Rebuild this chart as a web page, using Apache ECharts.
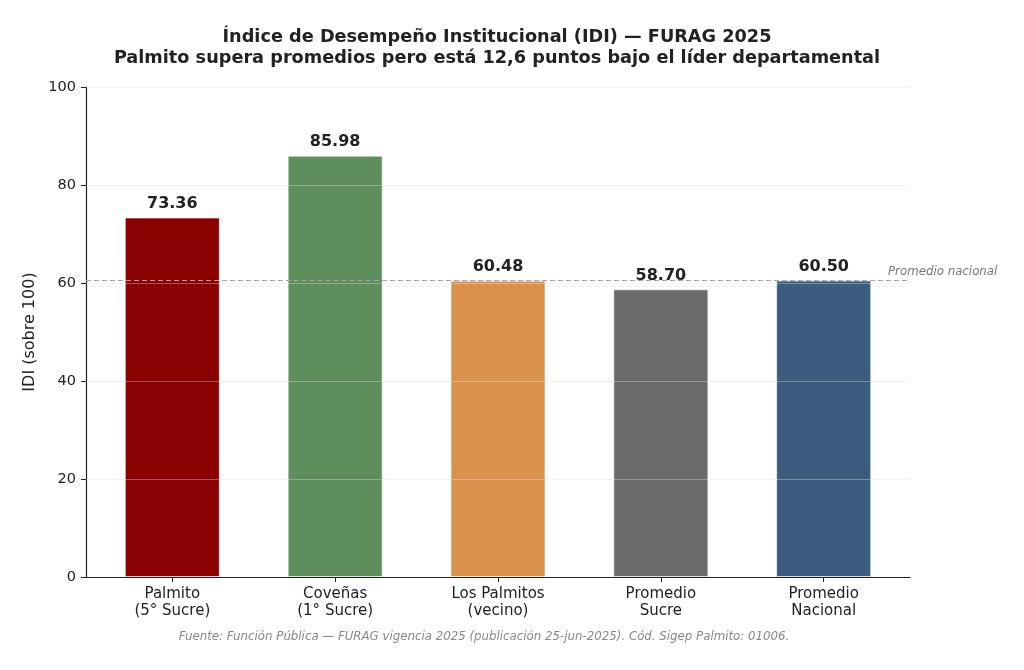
<!DOCTYPE html>
<html>
<head>
<meta charset="utf-8">
<script src="https://cdn.jsdelivr.net/npm/echarts@6/dist/echarts.min.js"></script>
<style>html,body{margin:0;padding:0;background:#fff}#c{width:1024px;height:670px}</style>
</head>
<body>
<div id="c"></div>
<script>
const categories = ['Palmito\n(5° Sucre)', 'Coveñas\n(1° Sucre)', 'Los Palmitos\n(vecino)', 'Promedio\nSucre', 'Promedio\nNacional'];
const values = [73.36, 85.98, 60.48, 58.70, 60.50];
const barColors = ['#8b0000', '#5e8e5c', '#da914c', '#6a6a6a', '#3b5b7f'];
const nationalAvg = 60.50;
const yTicks = [0, 20, 40, 60, 80, 100];
const titleText = 'Índice de Desempeño Institucional (IDI) — FURAG 2025\nPalmito supera promedios pero está 12,6 puntos bajo el líder departamental';
const sourceText = 'Fuente: Función Pública — FURAG vigencia 2025 (publicación 25-jun-2025). Cód. Sigep Palmito: 01006.';
const avgLabel = 'Promedio nacional';

const FONT = 'DejaVu Sans';
const xMin = -0.53, xMax = 4.53;
const chart = echarts.init(document.getElementById('c'), null, {renderer: 'canvas'});

const barData = values.map((v, i) => ({
  value: [i, v],
  itemStyle: {color: barColors[i]}
}));

chart.setOption({
  animation: false,
  backgroundColor: '#fff',
  textStyle: {fontFamily: FONT},
  grid: {left: 86, right: 114, top: 87, bottom: 93, containLabel: false},
  xAxis: {
    type: 'value', min: xMin, max: xMax,
    splitLine: {show: false},
    axisLine: {show: true, onZero: false, lineStyle: {color: '#222', width: 1.2}},
    axisTick: {show: true, length: 5, lineStyle: {color: '#222'}, customValues: categories.map((c, i) => i)},
    axisLabel: {
      customValues: categories.map((c, i) => i),
      formatter: v => categories[Math.round(v)] || '',
      fontFamily: FONT, fontSize: 15, color: '#222', lineHeight: 17, margin: 9
    }
  },
  yAxis: {
    type: 'value', min: 0, max: 100, interval: 20,
    name: 'IDI (sobre 100)', nameLocation: 'middle', nameGap: 43,
    nameTextStyle: {fontFamily: FONT, fontSize: 16, color: '#222'},
    axisLine: {show: true, onZero: false, lineStyle: {color: '#222', width: 1.2}},
    axisTick: {show: true, length: 5, lineStyle: {color: '#222'}},
    axisLabel: {fontFamily: FONT, fontSize: 14.5, color: '#222', margin: 10},
    splitLine: {show: true, lineStyle: {color: '#f6f6f6', width: 1}}
  },
  series: [
    {
      type: 'bar',
      data: barData,
      barWidth: 95,
      itemStyle: {borderColor: 'rgba(255,255,255,0.55)', borderWidth: 1},
      label: {
        show: true, position: 'top', distance: 6,
        formatter: p => p.value[1].toFixed(2),
        fontFamily: FONT, fontSize: 16, fontWeight: 'bold', color: '#222'
      },
      z: 2
    },
    {
      type: 'line',
      data: [],
      z: 5,
      silent: true,
      markLine: {
        silent: true, symbol: 'none', animation: false,
        label: {show: false},
        lineStyle: {color: 'rgba(235,235,235,0.35)', type: 'solid', width: 1.2},
        data: yTicks.filter(t => t > 0).map(t => ({yAxis: t}))
      }
    },
    {
      type: 'line',
      data: [],
      z: 6,
      silent: true,
      markLine: {
        silent: true, symbol: 'none', animation: false,
        label: {show: false},
        lineStyle: {color: '#a8a8a8', type: [5, 3], width: 1.2},
        data: [{yAxis: nationalAvg}]
      }
    }
  ]
});

const p = chart.convertToPixel({gridIndex: 0}, [xMax, nationalAvg]);
const lines = titleText.split('\n');
chart.setOption({
  graphic: [
    {
      type: 'text', x: 497, y: 37,
      style: {text: lines[0], fontFamily: FONT, fontSize: 17.7, fontWeight: 'bold', fill: '#222', textAlign: 'center', textVerticalAlign: 'middle'}
    },
    {
      type: 'text', x: 497, y: 58,
      style: {text: lines[1], fontFamily: FONT, fontSize: 17.7, fontWeight: 'bold', fill: '#222', textAlign: 'center', textVerticalAlign: 'middle'}
    },
    {
      type: 'text', x: p[0] - 22, y: p[1] - 9,
      style: {text: avgLabel, fontFamily: FONT, fontSize: 11.8, fontStyle: 'italic', fill: '#777', textAlign: 'left', textVerticalAlign: 'middle'}
    },
    {
      type: 'text', x: 484, y: 637,
      style: {text: sourceText, fontFamily: FONT, fontSize: 11.8, fontStyle: 'italic', fill: '#888', textAlign: 'center', textVerticalAlign: 'middle'}
    }
  ]
});
</script>
</body>
</html>
